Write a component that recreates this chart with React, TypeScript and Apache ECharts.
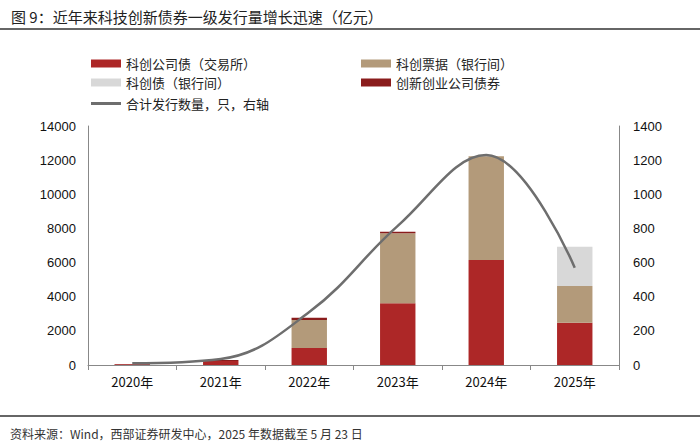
import React, { useEffect, useRef } from "react";
import * as echarts from "echarts";

const categories = ["2020年", "2021年", "2022年", "2023年", "2024年", "2025年"];
const kcCorpExchange = [50, 240, 1000, 3620, 6150, 2480];
const kcNotesInterbank = [0, 0, 1640, 4100, 6080, 2150];
const kcBondInterbank = [0, 0, 0, 0, 0, 2300];
const innovationCorp = [15, 60, 130, 90, 0, 0];
const totalCount = [10, 35, 310, 815, 1230, 570];

const names = [
  "科创公司债（交易所）",
  "科创票据（银行间）",
  "科创债（银行间）",
  "创新创业公司债券",
  "合计发行数量，只，右轴",
];

export default function App() {
  const ref = useRef<HTMLDivElement>(null);
  useEffect(() => {
    document.body.style.margin = "0";
    const chart = echarts.init(ref.current!, null, { renderer: "svg" });
    const font = "'Noto Sans CJK SC', 'Noto Sans', sans-serif";
    const axisLabel = {
      color: "#111",
      fontSize: 13,
      fontFamily: "Liberation Sans, Arial, sans-serif",
      formatter: (v: number) => String(v),
    };
    const legendText = { fontSize: 13, color: "#222", fontFamily: font };
    chart.setOption({
      animation: false,
      backgroundColor: "#fff",
      title: [
        {
          text: "图 9：近年来科技创新债券一级发行量增长迅速（亿元）",
          left: 6,
          top: 4,
          textStyle: { fontSize: 15, fontWeight: "normal", color: "#222", fontFamily: font },
        },
        {
          text: "资料来源：Wind，西部证券研发中心，2025 年数据截至 5 月 23 日",
          left: 5,
          top: 422,
          textStyle: { fontSize: 12, fontWeight: "normal", color: "#333", fontFamily: font },
        },
      ],
      graphic: [
        { type: "line", shape: { x1: 0, y1: 29, x2: 700, y2: 29 }, style: { stroke: "#333", lineWidth: 1.5 } },
        { type: "line", shape: { x1: 0, y1: 416, x2: 700, y2: 416 }, style: { stroke: "#333", lineWidth: 1.5 } },
      ],
      legend: [
        {
          orient: "vertical",
          left: 86,
          top: 52,
          itemWidth: 30,
          itemHeight: 8,
          itemGap: 6,
          icon: "rect",
          data: [names[0], names[2]],
          textStyle: legendText,
        },
        {
          left: 86,
          top: 92,
          itemWidth: 30,
          itemHeight: 3,
          icon: "rect",
          data: [names[4]],
          textStyle: legendText,
        },
        {
          orient: "vertical",
          left: 356,
          top: 52,
          itemWidth: 30,
          itemHeight: 8,
          itemGap: 6,
          icon: "rect",
          data: [names[1], names[3]],
          textStyle: legendText,
        },
      ],
      grid: { left: 88, right: 81, top: 126, bottom: 78 },
      xAxis: {
        type: "category",
        data: categories,
        axisLine: { lineStyle: { color: "#888" } },
        axisTick: { show: true, length: 5, lineStyle: { color: "#888" } },
        axisLabel: { color: "#111", fontSize: 13, margin: 10, fontFamily: font },
      },
      yAxis: [
        {
          type: "value",
          min: 0,
          max: 14000,
          interval: 2000,
          axisLine: { show: true, lineStyle: { color: "#888" } },
          axisTick: { show: false },
          splitLine: { show: false },
          axisLabel: { ...axisLabel, margin: 12 },
        },
        {
          type: "value",
          min: 0,
          max: 1400,
          interval: 200,
          axisLine: { show: true, lineStyle: { color: "#888" } },
          axisTick: { show: false },
          splitLine: { show: false },
          axisLabel: { ...axisLabel, margin: 14 },
        },
      ],
      series: [
        { name: names[0], type: "bar", stack: "a", barWidth: "40%", data: kcCorpExchange, itemStyle: { color: "#AD2727" } },
        { name: names[1], type: "bar", stack: "a", data: kcNotesInterbank, itemStyle: { color: "#B39A7A" } },
        { name: names[2], type: "bar", stack: "a", data: kcBondInterbank, itemStyle: { color: "#D8D8D8" } },
        { name: names[3], type: "bar", stack: "a", data: innovationCorp, itemStyle: { color: "#8A1C1C" } },
        {
          name: names[4],
          type: "line",
          yAxisIndex: 1,
          smooth: 0.4,
          symbol: "none",
          data: totalCount,
          lineStyle: { color: "#6E6E6E", width: 2.5 },
          itemStyle: { color: "#6E6E6E" },
        },
      ],
    });
    return () => chart.dispose();
  }, []);
  return <div ref={ref} style={{ width: 700, height: 443 }} />;
}
